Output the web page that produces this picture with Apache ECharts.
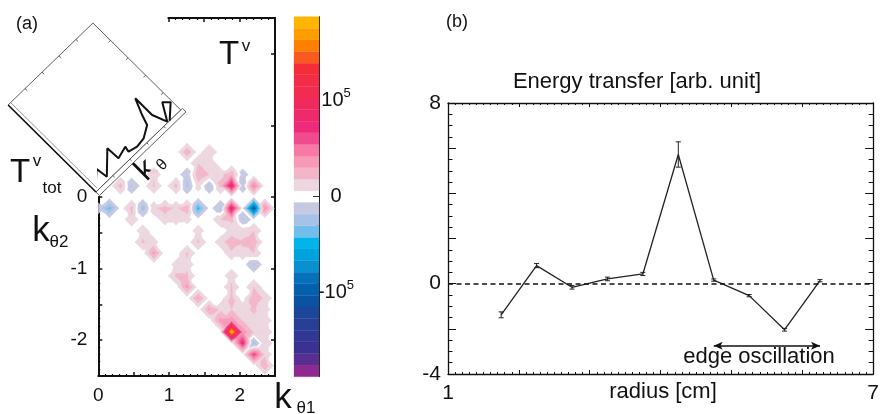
<!DOCTYPE html>
<html>
<head>
<meta charset="utf-8">
<script src="https://cdn.jsdelivr.net/npm/echarts@6/dist/echarts.min.js"></script>
<style>
html, body { margin: 0; padding: 0; background: #fff; }
#chart { width: 882px; height: 414px; }
</style>
</head>
<body>
<div id="chart"></div>
<script>
'use strict';

// ---- (b) energy transfer against radius
const radius = [1.75, 2.25, 2.75, 3.25, 3.75, 4.25, 4.75, 5.25, 5.75, 6.25];
const energy = [-1.38, 0.80, -0.16, 0.21, 0.43, 5.72, 0.16, -0.53, -2.04, 0.13];
const energyErr = [0.13, 0.09, 0.08, 0.08, 0.07, 0.56, 0.05, 0.05, 0.06, 0.05];
const edgeRange = [4.75, 6.25];
const edgeLevel = -2.75;

// ---- (a) T^v on the (k_theta1, k_theta2) grid, grid step pi/20, values in 1e4
const kStep = Math.PI / 20;
const transferCells = [
    // k_theta2 > 0
    [2, 1, 2.4], [3, 1, -2.0], [5, 1, 2.0], [5, 2, 1.6], [7, 1, 2.2], [8, 1, -2.2], [8, 2, -1.5],
    [9, 1, 1.2], [9, 2, 2.8], [9, 3, 1.8], [10, 2, 1.8], [10, 3, 1.5], [10, 1, -2.0],
    [11, 1, 2.2], [11, 2, 1.4], [12, 1, 8.5], [12, 2, 2.8], [13, 1, -1.5], [13, 2, -1.2],
    [14, 1, 4.5], [8, 4, 2.8], [10, 4, 1.8],
    // first row below zero
    [0, -1, -1.2], [1, -1, -3.8], [3, -1, 2.2], [3, -2, 1.5], [4, -1, -2.8], [5, -1, 1.5],
    [6, -1, 2.4], [6, -2, 1.2], [7, -1, 1.6], [7, -2, 1.2], [8, -1, 2.6], [8, -2, 1.0],
    [9, -1, -4.8], [11, -1, -2.0], [12, -1, 8.5], [12, -2, 2.2], [11, -2, 1.8],
    [14, -1, -11.0], [15, -1, 4.0], [13, -2, -2.0], [14, -3, 1.8],
    // middle
    [4, -4, 2.0], [4, -3, 1.3], [5, -4, 1.0], [5, -5, 3.4], [9, -4, 2.0], [9, -3, 1.2], [8, -5, 2.0],
    [12, -4, 2.8], [13, -4, 2.0], [14, -4, 2.8], [12, -5, 1.5], [13, -5, 1.5], [14, -5, 1.8],
    [13, -3, 1.3], [12, -3, 1.0], [11, -4, 1.2], [14, -6, -2.0],
    // lower edge
    [7, -7, 2.0], [8, -7, 2.0], [8, -6, 1.5], [7, -6, 1.0], [8, -8, 3.4], [9, -9, 3.2],
    [10, -10, 3.2], [11, -11, 3.6], [12, -12, 18.6], [13, -13, 7.5], [14, -14, 6.5], [15, -15, 2.8],
    [12, -7, 1.5], [12, -8, 2.0], [12, -9, 2.2], [12, -10, 1.8], [11, -10, 1.5], [13, -10, 1.5],
    [13, -11, 1.8], [12, -11, 3.8], [13, -12, 3.8],
    [14, -8, 1.8], [14, -9, 3.0], [14, -10, 2.0], [15, -9, 1.5], [15, -10, 1.2], [14, -11, 1.5],
    [15, -11, 1.5], [14, -12, 1.8], [15, -12, 1.8], [15, -13, 1.8], [15, -14, 1.5], [14, -13, -3.0]
];

// inset T^v_tot traced along k_theta, both as fractions of the inset box
const insetK = [0.051, 0.143, 0.157, 0.331, 0.337, 0.448, 0.437, 0.518, 0.608, 0.709, 0.739, 0.799, 0.799, 0.849, 0.936, 0.986, 0.869];
const insetT = [0.052, 0.130, 0.028, 0.190, 0.069, 0.099, 0.051, 0.032, 0.044, 0.102, 0.188, 0.324, 0.132, 0.008, 0.149, 0.102, 0.000];

// colour levels
const levelStep = 1.21e4;
const posColors = ['#ecd6df', '#f3b6c9', '#f899b7', '#f67aa5', '#f04b8f', '#ee2a7b', '#ef2a6c',
    '#f02a5e', '#f22c50', '#f32d45', '#f42d38', '#f95a1f', '#ff7f00', '#ff9d00', '#ffb400'];
const negColors = ['#c6c9e2', '#a6c2e6', '#70bfea', '#00b5eb', '#00a2dd', '#0a8fcf', '#0670b8',
    '#0360ac', '#0a52a2', '#1c4698', '#283f95', '#313893', '#3a3290', '#592e91', '#8e2a8f'];
const nLevels = posColors.length;

// inset placement in (k_theta1, k_theta2) units
const insetOrigin = [-0.033, 0.070];
const insetU = [1.2, 1.145];
const insetV = [-1.243, 1.215];

const FONT = 'Liberation Sans';
const INK = '#111';

// -------------------------------------------------------------------------

const cellMap = new Map();
transferCells.forEach(([i, j, v]) => cellMap.set(i + ',' + j, v * 1e4));
function gv(i, j) { return cellMap.get(i + ',' + j) || 0; }

const cellList = [];
for (let i = 0; i < 16; i++) {
    for (let j = -16; j < 16; j++) {
        if (gv(i, j) || gv(i + 1, j) || gv(i, j + 1) || gv(i + 1, j + 1)) {
            cellList.push([i * kStep, j * kStep]);
        }
    }
}

function bandOf(v) {
    return Math.max(-nLevels, Math.min(nLevels, Math.round(v / levelStep)));
}
function bandColor(n) {
    return n > 0 ? posColors[n - 1] : negColors[-n - 1];
}

// centre value of a cell: of the two middle corner values, the one nearer zero
function centreValue(vals) {
    const s = vals.slice().sort((a, b) => a - b);
    if (s[1] >= 0) return s[1];
    if (s[2] <= 0) return s[2];
    return 0;
}

function clipPoly(poly, dist) {
    const out = [];
    for (let a = 0; a < poly.length; a++) {
        const P = poly[a], Q = poly[(a + 1) % poly.length];
        const dp = dist(P[2]), dq = dist(Q[2]);
        if (dp >= 0) out.push(P);
        if ((dp >= 0) !== (dq >= 0)) {
            const t = dp / (dp - dq);
            out.push([P[0] + t * (Q[0] - P[0]), P[1] + t * (Q[1] - P[1]), P[2] + t * (Q[2] - P[2])]);
        }
    }
    return out;
}

// each grid cell is cut in four triangles round its centre, then banded
function renderCell(params, api) {
    const i = Math.round(api.value(0) / kStep);
    const j = Math.round(api.value(1) / kStep);
    const P = (a, b) => {
        const c = api.coord([a * kStep, b * kStep]);
        return [c[0], c[1], gv(a, b)];
    };
    const q = [P(i, j), P(i + 1, j), P(i + 1, j + 1), P(i, j + 1)];
    const mid = [(q[0][0] + q[2][0]) / 2, (q[0][1] + q[2][1]) / 2, centreValue(q.map(p => p[2]))];
    const children = [];
    for (let e = 0; e < 4; e++) {
        const tri = [q[e], q[(e + 1) % 4], mid];
        const vs = tri.map(p => p[2]);
        const nLo = bandOf(Math.min(...vs)), nHi = bandOf(Math.max(...vs));
        for (let n = nLo; n <= nHi; n++) {
            if (n === 0) continue;
            const lo = n === -nLevels ? -Infinity : (n - 0.5) * levelStep;
            const hi = n === nLevels ? Infinity : (n + 0.5) * levelStep;
            let poly = clipPoly(tri, v => v - lo);
            poly = clipPoly(poly, v => hi - v);
            if (poly.length < 3) continue;
            const col = bandColor(n);
            children.push({
                type: 'polygon',
                shape: { points: poly.map(p => [p[0], p[1]]) },
                style: { fill: col, stroke: col, lineWidth: 0.5 }
            });
        }
    }
    return { type: 'group', children: children };
}

function insetToK(s, h) {
    return [insetOrigin[0] + s * insetU[0] + h * insetV[0],
            insetOrigin[1] + s * insetU[1] + h * insetV[1]];
}

function renderInsetFrame(params, api) {
    const px = (s, h) => api.coord(insetToK(s, h));
    const seg = (a, b, w, c) => ({
        type: 'line',
        shape: { x1: a[0], y1: a[1], x2: b[0], y2: b[1] },
        style: { stroke: c || '#333', lineWidth: w || 0.8 }
    });
    const children = [
        {
            type: 'polygon',
            shape: { points: [px(0, 0), px(1, 0), px(1, 1), px(0, 1)] },
            style: { fill: '#fff', stroke: '#333', lineWidth: 0.8 }
        },
        {
            type: 'polygon',
            shape: { points: [px(0, 0), px(1.02, 0), px(1.02, -0.04), px(0, -0.04)] },
            style: { fill: '#fff', stroke: '#333', lineWidth: 0.8 }
        },
        seg(px(0, 0), px(0, 1), 1.6, INK),
        seg(px(0.03, 0.02), px(0.03, 1), 0.8, '#777')
    ];
    [0.2, 0.4, 0.6, 0.8].forEach(t => {
        children.push(seg(px(t, 1), px(t, 0.975)));
        children.push(seg(px(1, t), px(0.975, t)));
        children.push(seg(px(t, 0), px(t, -0.02)));
    });
    return { type: 'group', children: children };
}

function renderBand(params, api) {
    const n = api.value(1);
    const lo = (n - 0.5) * levelStep, hi = (n + 0.5) * levelStep;
    const a = api.coord([0, hi]), b = api.coord([1, lo]);
    const col = bandColor(n);
    return {
        type: 'rect',
        shape: { x: a[0], y: a[1], width: b[0] - a[0], height: b[1] - a[1] },
        style: { fill: col, stroke: col, lineWidth: 0.3 }
    };
}

function renderErrorBar(params, api) {
    const x = api.value(0), y = api.value(1), e = api.value(2);
    const top = api.coord([x, y + e]), bot = api.coord([x, y - e]);
    const w = 2.5;
    const st = { stroke: '#222', lineWidth: 1 };
    return {
        type: 'group',
        children: [
            { type: 'line', shape: { x1: top[0], y1: top[1], x2: bot[0], y2: bot[1] }, style: st },
            { type: 'line', shape: { x1: top[0] - w, y1: top[1], x2: top[0] + w, y2: top[1] }, style: st },
            { type: 'line', shape: { x1: bot[0] - w, y1: bot[1], x2: bot[0] + w, y2: bot[1] }, style: st }
        ]
    };
}

const bandData = [];
for (let n = -nLevels; n <= nLevels; n++) {
    if (n !== 0) bandData.push([0.5, n]);
}

const cbMax = (nLevels + 0.5) * levelStep;
const cbMinorTicks = [];
for (let v = -18; v <= 18; v++) cbMinorTicks.push(v * 1e4);

const onlyInt = v => (Number.isInteger(v) ? String(v) : '');

function frameLine(width) {
    return { onZero: false, lineStyle: { color: INK, width: width } };
}

const option = {
    animation: false,
    backgroundColor: '#fff',
    textStyle: { fontFamily: FONT, color: INK },
    grid: [
        { left: 98.3, top: 18, width: 176.7, height: 358 },
        { left: 168.3, top: 18, width: 106.7, height: 358 },
        { left: 98.3, top: 197, width: 176.7, height: 179 },
        { left: 294, top: 16.7, width: 25, height: 360 },
        { left: 448, top: 103, width: 432, height: 271 }
    ],
    xAxis: [
        {
            gridIndex: 0, type: 'value', position: 'bottom', min: 0, max: 2.5, interval: 0.5,
            axisLine: frameLine(2),
            axisTick: { inside: true, length: 4, lineStyle: { color: INK, width: 1.5 } },
            minorTick: { show: true, splitNumber: 5, length: 2, lineStyle: { color: INK, width: 1.2 } },
            axisLabel: { formatter: onlyInt, fontSize: 19, color: INK, margin: 10 },
            splitLine: { show: false }
        },
        {
            gridIndex: 1, type: 'value', position: 'top', min: 1, max: 2.5, interval: 0.5,
            axisLine: frameLine(2),
            axisTick: { inside: true, length: 4, lineStyle: { color: INK, width: 1.5 } },
            minorTick: { show: true, splitNumber: 5, length: 2, lineStyle: { color: INK, width: 1.2 } },
            axisLabel: { show: false },
            splitLine: { show: false }
        },
        { gridIndex: 2, type: 'value', min: 0, max: 2.5, show: false },
        { gridIndex: 3, type: 'value', min: 0, max: 1, show: false },
        {
            gridIndex: 4, type: 'value', position: 'bottom', min: 1, max: 7, interval: 1,
            axisLine: frameLine(1.3),
            axisTick: { inside: true, length: 4, lineStyle: { color: INK } },
            minorTick: { show: true, splitNumber: 10, length: 2, lineStyle: { color: INK } },
            axisLabel: {
                formatter: v => (v === 1 || v === 7 ? String(v) : ''),
                fontSize: 21, color: INK, margin: 9
            },
            splitLine: { show: false }
        },
        {
            gridIndex: 4, type: 'value', position: 'top', min: 1, max: 7, interval: 1,
            axisLine: frameLine(1.3),
            axisTick: { inside: true, length: 4, lineStyle: { color: INK } },
            minorTick: { show: true, splitNumber: 10, length: 2, lineStyle: { color: INK } },
            axisLabel: { show: false },
            splitLine: { show: false }
        }
    ],
    yAxis: [
        {
            gridIndex: 0, type: 'value', position: 'right', min: -2.5, max: 2.5, interval: 0.5,
            axisLine: frameLine(2),
            axisTick: { inside: true, length: 4, customValues: [-2, -1, 0, 1, 2], lineStyle: { color: INK, width: 1.5 } },
            axisLabel: { show: false },
            splitLine: { show: false }
        },
        { gridIndex: 1, type: 'value', min: -2.5, max: 2.5, show: false },
        {
            gridIndex: 2, type: 'value', position: 'left', min: -2.5, max: 0, interval: 0.5,
            axisLine: frameLine(2),
            axisTick: { inside: true, length: 4, lineStyle: { color: INK, width: 1.5 } },
            minorTick: { show: true, splitNumber: 5, length: 2, lineStyle: { color: INK, width: 1.2 } },
            axisLabel: { formatter: onlyInt, fontSize: 19, color: INK, margin: 11 },
            splitLine: { show: false }
        },
        {
            gridIndex: 3, type: 'value', position: 'right', min: -cbMax, max: cbMax,
            axisLine: { onZero: false, lineStyle: { color: '#222', width: 1 } },
            axisTick: { inside: true, length: 3, customValues: cbMinorTicks, lineStyle: { color: '#333' } },
            axisLabel: { show: false },
            splitLine: { show: false }
        },
        {
            gridIndex: 3, type: 'value', position: 'right', min: -cbMax, max: cbMax,
            axisLine: { show: false, onZero: false },
            axisTick: { inside: true, length: 6, customValues: [-1e5, 0, 1e5], lineStyle: { color: '#333' } },
            axisLabel: {
                customValues: [-1e5, 0, 1e5],
                align: 'center', margin: 17, color: INK,
                formatter: v => (v === 0 ? '{b|0}' : (v > 0 ? '{b|10}{s|5}' : '{b|-10}{s|5}')),
                rich: {
                    b: { fontSize: 20, fontFamily: FONT, color: INK, lineHeight: 28, verticalAlign: 'middle' },
                    s: { fontSize: 13, fontFamily: FONT, color: INK, lineHeight: 14, verticalAlign: 'top' }
                }
            },
            splitLine: { show: false }
        },
        {
            gridIndex: 4, type: 'value', position: 'left', min: -4, max: 8, interval: 2,
            axisLine: frameLine(1.3),
            axisTick: { inside: true, length: 8, lineStyle: { color: INK } },
            minorTick: { show: true, splitNumber: 4, length: 4.5, lineStyle: { color: INK } },
            axisLabel: {
                formatter: v => (v === 8 || v === 0 || v === -4 ? String(v) : ''),
                fontSize: 21, color: INK, margin: 7
            },
            splitLine: { show: false }
        },
        {
            gridIndex: 4, type: 'value', position: 'right', min: -4, max: 8, interval: 2,
            axisLine: frameLine(1.3),
            axisTick: { inside: true, length: 8, lineStyle: { color: INK } },
            minorTick: { show: true, splitNumber: 4, length: 4.5, lineStyle: { color: INK } },
            axisLabel: { show: false },
            splitLine: { show: false }
        }
    ],
    series: [
        {
            type: 'custom', name: 'transfer', xAxisIndex: 0, yAxisIndex: 0, clip: true, z: 1,
            renderItem: renderCell, encode: { x: 0, y: 1 }, data: cellList
        },
        {
            type: 'custom', name: 'insetFrame', xAxisIndex: 0, yAxisIndex: 0, clip: false, z: 5,
            renderItem: renderInsetFrame, data: [[0, 0]]
        },
        {
            type: 'line', name: 'insetCurve', xAxisIndex: 0, yAxisIndex: 0, clip: false, z: 6,
            symbol: 'none', lineStyle: { color: INK, width: 2 },
            data: insetK.map((s, n) => insetToK(s, insetT[n]))
        },
        {
            type: 'custom', name: 'colorbar', xAxisIndex: 3, yAxisIndex: 3,
            renderItem: renderBand, data: bandData
        },
        {
            type: 'line', name: 'energy', xAxisIndex: 4, yAxisIndex: 5, z: 4,
            symbol: 'none', lineStyle: { color: '#222', width: 1.3 },
            data: radius.map((r, n) => [r, energy[n]]),
            markLine: {
                silent: true, symbol: ['none', 'none'], animation: false,
                label: { show: false },
                data: [
                    { yAxis: 0, lineStyle: { color: INK, width: 1.6, type: [5, 3.5] } },
                    [
                        { coord: [edgeRange[0], edgeLevel], symbol: 'arrow', symbolSize: [6, 9] },
                        { coord: [edgeRange[1], edgeLevel], symbol: 'arrow', symbolSize: [6, 9],
                          lineStyle: { color: INK, width: 1.5, type: 'solid' } }
                    ]
                ]
            }
        },
        {
            type: 'custom', name: 'errors', xAxisIndex: 4, yAxisIndex: 5, z: 5,
            renderItem: renderErrorBar,
            data: radius.map((r, n) => [r, energy[n], energyErr[n]])
        }
    ],
    graphic: [
        { type: 'text', x: 27, y: 24, style: { text: '(a)', font: '18px ' + FONT, fill: INK, textAlign: 'center', textVerticalAlign: 'middle' } },
        { type: 'text', x: 457, y: 22, style: { text: '(b)', font: '18px ' + FONT, fill: INK, textAlign: 'center', textVerticalAlign: 'middle' } },
        { type: 'text', x: 229, y: 55, z: 10, style: { text: 'T', font: '33px ' + FONT, fill: INK, textAlign: 'center', textVerticalAlign: 'middle' } },
        { type: 'text', x: 246, y: 46, z: 10, style: { text: 'v', font: '17px ' + FONT, fill: INK, textAlign: 'center', textVerticalAlign: 'middle' } },
        { type: 'text', x: 20, y: 173, z: 10, style: { text: 'T', font: '33px ' + FONT, fill: INK, textAlign: 'center', textVerticalAlign: 'middle' } },
        { type: 'text', x: 37, y: 161, z: 10, style: { text: 'v', font: '17px ' + FONT, fill: INK, textAlign: 'center', textVerticalAlign: 'middle' } },
        { type: 'text', x: 52, y: 188, z: 10, style: { text: 'tot', font: '17px ' + FONT, fill: INK, textAlign: 'center', textVerticalAlign: 'middle' } },
        { type: 'text', x: 41, y: 231, z: 10, style: { text: 'k', font: '35px ' + FONT, fill: INK, textAlign: 'center', textVerticalAlign: 'middle' } },
        { type: 'text', x: 59, y: 242, z: 10, style: { text: 'θ2', font: '17px ' + FONT, fill: INK, textAlign: 'center', textVerticalAlign: 'middle' } },
        { type: 'text', x: 283, y: 398, z: 10, style: { text: 'k', font: '35px ' + FONT, fill: INK, textAlign: 'center', textVerticalAlign: 'middle' } },
        { type: 'text', x: 306, y: 408, z: 10, style: { text: 'θ1', font: '17px ' + FONT, fill: INK, textAlign: 'center', textVerticalAlign: 'middle' } },
        {
            type: 'group', x: 146, y: 170, rotation: Math.PI / 4, z: 10,
            children: [
                { type: 'text', x: 0, y: 0, style: { text: 'k', font: '32px ' + FONT, fill: INK, textAlign: 'center', textVerticalAlign: 'middle' } },
                { type: 'text', x: 15, y: 8, style: { text: 'θ', font: '16px ' + FONT, fill: INK, textAlign: 'center', textVerticalAlign: 'middle' } }
            ]
        },
        { type: 'text', x: 637, y: 82, style: { text: 'Energy transfer [arb. unit]', font: '22px ' + FONT, fill: INK, textAlign: 'center', textVerticalAlign: 'middle' } },
        { type: 'text', x: 759, y: 357, z: 10, style: { text: 'edge oscillation', font: '22px ' + FONT, fill: INK, textAlign: 'center', textVerticalAlign: 'middle' } },
        { type: 'text', x: 663, y: 392, style: { text: 'radius [cm]', font: '22px ' + FONT, fill: INK, textAlign: 'center', textVerticalAlign: 'middle' } }
    ]
};

const chart = echarts.init(document.getElementById('chart'), null, { renderer: 'canvas' });
chart.setOption(option);
</script>
</body>
</html>
